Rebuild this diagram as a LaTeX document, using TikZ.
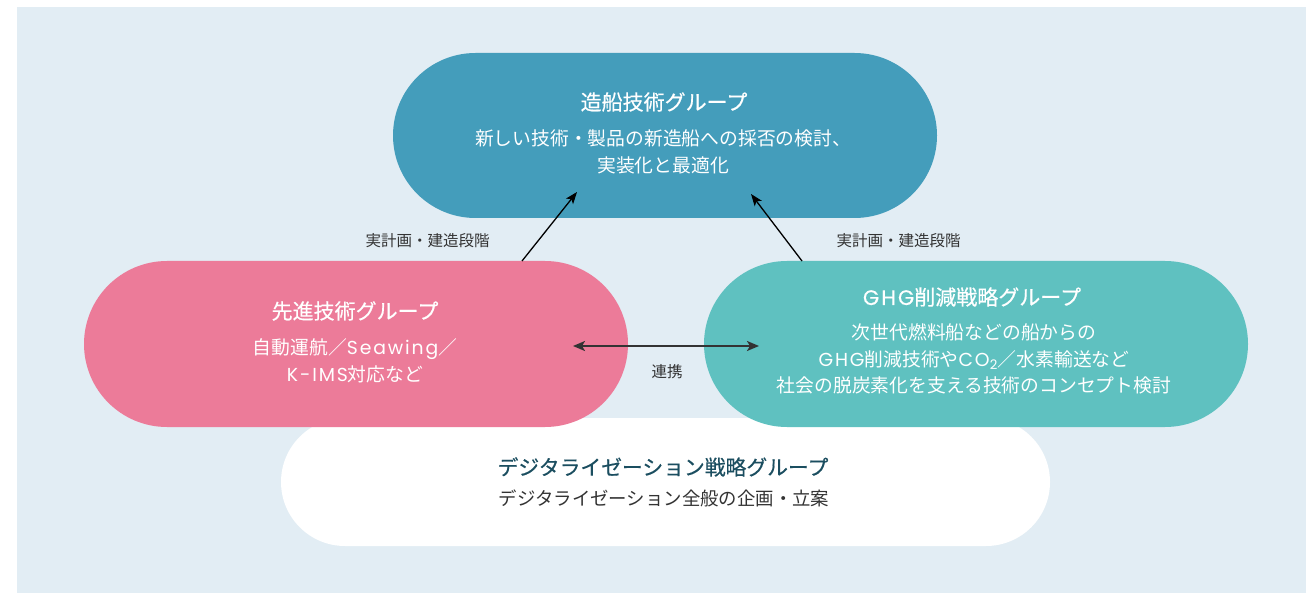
\documentclass[tikz,border=0pt]{standalone}
\usepackage{fontspec}
\setmainfont{Noto Sans CJK JP}
\newfontfamily\ttlfont{Noto Sans CJK JP}[FakeBold=0.5]
\newfontfamily\latfont{Poppins}[LetterSpace=10]
\newfontfamily\latttlfont{Poppins}[LetterSpace=10,FakeBold=0.3]
\newcommand\lat[1]{{\latfont #1}}
\newcommand\latttl[1]{{\latttlfont #1}}
\usetikzlibrary{shapes.misc,arrows.meta}
\definecolor{bgblue}{HTML}{E2EDF4}
\definecolor{shipblue}{HTML}{449DBB}
\definecolor{advpink}{HTML}{EC7B99}
\definecolor{ghgteal}{HTML}{5FC1C0}
\definecolor{digititle}{HTML}{1B4E60}
\definecolor{labelgray}{HTML}{333333}
\tikzset{
  pill/.style={rounded rectangle, draw=none, inner sep=0pt},
  ttl/.style={font=\ttlfont\fontsize{21}{26}\selectfont, inner sep=0pt, text=white},
  desc/.style={font=\fontsize{18.8}{26.8}\selectfont, align=center, inner sep=0pt, text=white},
  lbl/.style={font=\fontsize{15.5}{18}\selectfont, inner sep=0pt, text=labelgray},
  link/.style={-{Stealth[length=12pt,width=9pt,inset=3pt]}, line width=1.3pt, black},
  dlink/.style={{Stealth[length=12pt,width=10pt,inset=3pt]}-{Stealth[length=12pt,width=10pt,inset=3pt]}, line width=2pt, labelgray},
}
\begin{document}
\begin{tikzpicture}[x=1pt,y=-1pt]
\useasboundingbox (0,0) rectangle (1306,593);
\fill[white] (0,0) rectangle (1306,593);
\fill[bgblue] (17,7) rectangle (1306,593);

% pills
\node[pill, fill=white, minimum width=769pt, minimum height=128pt] (digi) at (665.5,482) {};
\node[pill, fill=advpink, minimum width=544pt, minimum height=166pt] (adv) at (356,344) {};
\node[pill, fill=ghgteal, minimum width=544pt, minimum height=166pt] (ghg) at (976,344) {};
\node[pill, fill=shipblue, minimum width=544pt, minimum height=165pt] (ship) at (665,135.5) {};

% texts
\node[ttl] (shipT) at (664,102) {造船技術グループ};
\node[desc] (shipD) at (663,152) {新しい技術・製品の新造船への採否の検討、\\実装化と最適化};

\node[ttl] (advT) at (355,311) {先進技術グループ};
\node[desc] (advD) at (355,360.5) {自動運航／\lat{Seawing}／\\\lat{K-IMS}対応など};

\node[ttl] (ghgT) at (972,297) {\latttl{GHG}削減戦略グループ};
\node[desc] (ghgD) at (974,359) {次世代燃料船などの船からの\\\lat{GHG}削減技術や\lat{CO\textsubscript{2}}／水素輸送など\\社会の脱炭素化を支える技術のコンセプト検討};

\node[ttl, text=digititle, font=\ttlfont\fontsize{20.8}{26}\selectfont] (digiT) at (663,467) {デジタライゼーション戦略グループ};
\node[desc, text=labelgray, font=\fontsize{18.4}{24}\selectfont] (digiD) at (664,498) {デジタライゼーション全般の企画・立案};

% labels
\node[lbl] (lblL) at (427.5,241) {実計画・建造段階};
\node[lbl] (lblR) at (898.5,241) {実計画・建造段階};
\node[lbl] (lblC) at (667,372) {連携};

% connectors
\coordinate (advTop) at (522,261);
\coordinate (shipInL) at (577,192);
\coordinate (ghgTop) at (802,261);
\coordinate (shipInR) at (751,194);
\coordinate (advIn) at (573,346);
\coordinate (ghgIn) at (759,346);
\draw[link] (advTop) -- (shipInL);
\draw[link] (ghgTop) -- (shipInR);
\draw[dlink] (advIn) -- (ghgIn);
\end{tikzpicture}
\end{document}
